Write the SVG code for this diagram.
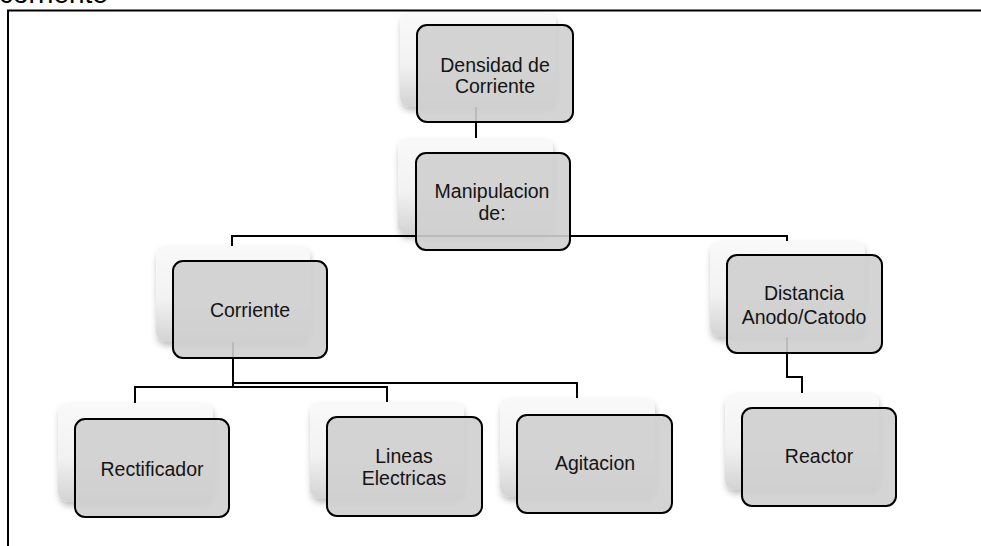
<svg xmlns="http://www.w3.org/2000/svg" width="981" height="546" viewBox="0 0 981 546">
<defs>
<linearGradient id="bg" x1="0" y1="0" x2="0" y2="1">
<stop offset="0" stop-color="#f9f9f9"/>
<stop offset="0.55" stop-color="#f2f2f2"/>
<stop offset="1" stop-color="#d3d3d3"/>
</linearGradient>
<filter id="sh" x="-20%" y="-20%" width="140%" height="150%">
<feDropShadow dx="1" dy="4" stdDeviation="3" flood-color="#000" flood-opacity="0.25"/>
</filter>
</defs>
<style>
.back{fill:url(#bg);filter:url(#sh);}
.front{fill:#cfcfcf;fill-opacity:0.9;stroke:#000;stroke-width:2;}
.lbl{font-family:"Liberation Sans",Arial,sans-serif;font-size:19.5px;fill:#141414;text-anchor:middle;}
.con{fill:none;stroke:#000;stroke-width:2;}
</style>
<rect width="981" height="546" fill="#fff"/>
<text x="-1" y="3" font-family="Liberation Sans, Arial, sans-serif" font-size="28" fill="#000">corriente</text>
<path d="M8,546 V10.5 H981" fill="none" stroke="#000" stroke-width="2"/>
<g id="connectors">
<path class="con" d="M476,107 V138"/>
<path class="con" d="M232,248 V236 H787 V253"/>
<path class="con" d="M233,342 V383 H577 V398"/>
<path class="con" d="M233,383 V387 H135 V403"/>
<path class="con" d="M233,387 H387 V402"/>
<path class="con" d="M787,337 V377 H802 V393"/>
</g>
<g id="n-densidad">
<rect class="back" x="400" y="12" width="156" height="95" rx="10"/>
<rect class="front" x="417" y="25" width="156" height="97" rx="10"/>
<text class="lbl" x="495" y="72">Densidad de</text>
<text class="lbl" x="495" y="93">Corriente</text>
</g>
<g id="n-manipulacion">
<rect class="back" x="398" y="138" width="155" height="97" rx="10"/>
<rect class="front" x="416" y="153" width="154" height="97" rx="10"/>
<text class="lbl" x="492" y="198">Manipulacion</text>
<text class="lbl" x="492" y="220">de:</text>
</g>
<g id="n-corriente">
<rect class="back" x="156" y="246" width="154" height="96" rx="10"/>
<rect class="front" x="173" y="261" width="154" height="97" rx="10"/>
<text class="lbl" x="250" y="317">Corriente</text>
</g>
<g id="n-distancia">
<rect class="back" x="710" y="241" width="155" height="96" rx="10"/>
<rect class="front" x="727" y="255" width="155" height="98" rx="10"/>
<text class="lbl" x="804" y="300">Distancia</text>
<text class="lbl" x="804" y="324">Anodo/Catodo</text>
</g>
<g id="n-rectificador">
<rect class="back" x="58" y="403" width="155" height="99" rx="10"/>
<rect class="front" x="75" y="419" width="154" height="98" rx="10"/>
<text class="lbl" x="152" y="476">Rectificador</text>
</g>
<g id="n-lineas">
<rect class="back" x="310" y="402" width="154" height="97" rx="10"/>
<rect class="front" x="327" y="417" width="155" height="99" rx="10"/>
<text class="lbl" x="404" y="463">Lineas</text>
<text class="lbl" x="404" y="485">Electricas</text>
</g>
<g id="n-agitacion">
<rect class="back" x="500" y="398" width="155" height="99" rx="10"/>
<rect class="front" x="517" y="415" width="155" height="98" rx="10"/>
<text class="lbl" x="595" y="470">Agitacion</text>
</g>
<g id="n-reactor">
<rect class="back" x="725" y="393" width="154" height="97" rx="10"/>
<rect class="front" x="742" y="408" width="154" height="98" rx="10"/>
<text class="lbl" x="819" y="463">Reactor</text>
</g>
</svg>
